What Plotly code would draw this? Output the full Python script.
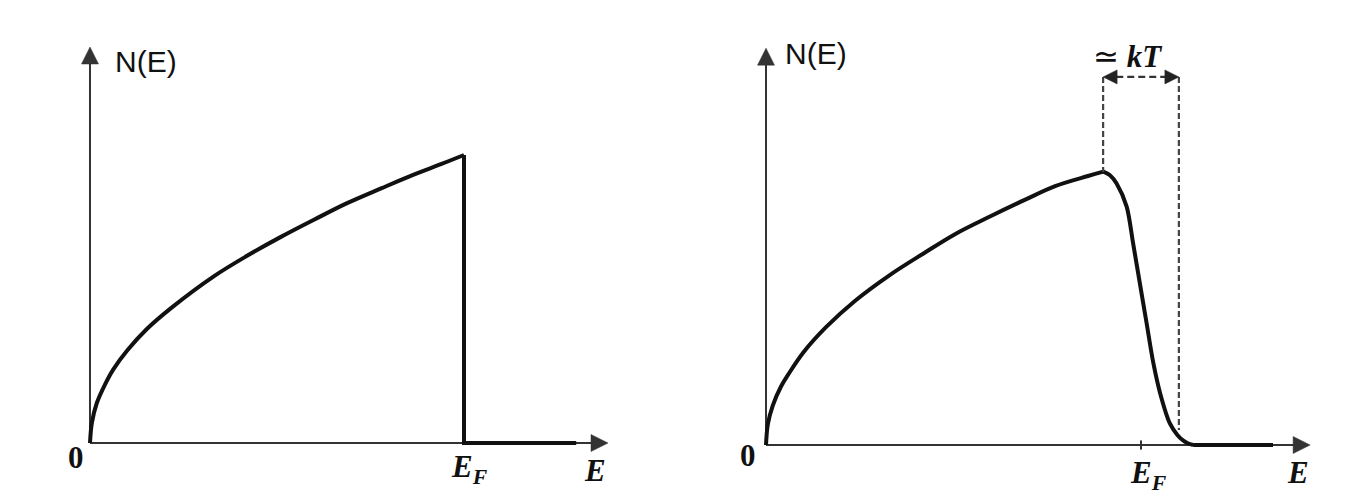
import plotly.graph_objects as go

# ---- data (E in units of E_F, N in units of N(E_F)) ----
left_rise_E = [0.0, 0.005, 0.018, 0.04, 0.062, 0.10, 0.152, 0.22, 0.33, 0.42, 0.508,
               0.60, 0.686, 0.78, 0.864, 0.94, 1.0]
left_rise_N = [0.0, 0.07, 0.138, 0.203, 0.255, 0.322, 0.396, 0.472, 0.578, 0.650, 0.714,
               0.776, 0.832, 0.885, 0.931, 0.969, 1.0]
left_drop_E = [1.0, 1.0, 1.30]
left_drop_N = [1.0, 0.0, 0.0]

right_rise_E = [0.0, 0.005, 0.018, 0.04, 0.0595, 0.10, 0.16, 0.237, 0.33, 0.42, 0.504,
                0.60, 0.69, 0.771, 0.8587, 0.8995]
right_rise_N = [0.0, 0.072, 0.137, 0.203, 0.245, 0.322, 0.409, 0.50, 0.590, 0.665, 0.732,
                0.795, 0.851, 0.899, 0.934, 0.949]
right_drop_E = [0.8995, 0.918, 0.935, 0.962, 0.979, 0.997, 1.015, 1.033, 1.051, 1.077,
                1.097, 1.113, 1.125, 1.139]
right_drop_N = [0.949, 0.936, 0.908, 0.827, 0.70, 0.561, 0.4226, 0.284, 0.18, 0.075,
                0.035, 0.015, 0.006, 0.0]
right_tail_E = [1.139, 1.352]
right_tail_N = [0.0, 0.0]

kT_left = 0.899
kT_right = 1.101
kT_level = 1.278
dash_right_bottom = 0.052

axis_E_end = [1.385, 1.451]
axis_N_end = [1.375, 1.378]
px_per_E = [374.0, 375.0]
px_per_N = 288.0

fig = go.Figure()

CURVE = "#111111"
AXC = "#333333"
LW = 4.0


def line(x, y, xa, ya, shape="linear", **kw):
    fig.add_trace(go.Scatter(x=x, y=y, mode="lines", line_shape=shape,
                             line=dict(color=kw.get("color", CURVE), width=kw.get("width", LW),
                                       dash=kw.get("dash", "solid"),
                                       smoothing=kw.get("smoothing", 1.0)),
                             xaxis=xa, yaxis=ya, hoverinfo="skip"))


def head(x, y, xa, ya, symbol, size, color):
    fig.add_trace(go.Scatter(x=[x], y=[y], mode="markers",
                             marker=dict(symbol=symbol, size=size, color=color,
                                         line=dict(width=0.5, color=color)),
                             xaxis=xa, yaxis=ya, hoverinfo="skip"))


# axes with arrowheads (arrow symbols have their tip at the data point)
HS = 17
for i, (xa, ya) in enumerate([("x", "y"), ("x2", "y2")]):
    ex, ny = axis_E_end[i], axis_N_end[i]
    line([0, ex - (HS / 2) / px_per_E[i]], [0, 0], xa, ya, color=AXC, width=2.2)
    line([0, 0], [0, ny - (HS / 2) / px_per_N], xa, ya, color=AXC, width=2.0)
    head(ex, 0, xa, ya, "arrow-right", HS, AXC)
    head(0, ny, xa, ya, "arrow-up", HS, AXC)

# curves
line(left_rise_E, left_rise_N, "x", "y", "spline")
line(left_drop_E, left_drop_N, "x", "y")
line(right_rise_E, right_rise_N, "x2", "y2", "spline")
line(right_drop_E, right_drop_N, "x2", "y2", "spline", smoothing=0.8)
line(right_tail_E, right_tail_N, "x2", "y2")

# dashed kT lines
line([kT_left, kT_left], [kT_level, right_rise_N[-1]], "x2", "y2",
     color="#444444", width=2.2, dash="6px,3px")
line([kT_right, kT_right], [kT_level, dash_right_bottom], "x2", "y2",
     color="#444444", width=2.2, dash="6px,3px")
line([kT_left + 0.035, kT_right - 0.035], [kT_level, kT_level], "x2", "y2",
     color="#333333", width=2.2, dash="7px,4px")
KS = 14
head(kT_left, kT_level, "x2", "y2", "arrow-left", KS, "#222222")
head(kT_right, kT_level, "x2", "y2", "arrow-right", KS, "#222222")

# E_F tick on right axis
line([1.0, 1.0], [-0.016, 0.016], "x2", "y2", color=AXC, width=2)

ann = []
SERIF = "Liberation Serif"
SANS = "Liberation Sans"
labels = [
    ("x", "y", 0.1497, 1.323, "N(E)", SANS, 30),
    ("x2", "y2", 0.1333, 1.361, "N(E)", SANS, 30),
    ("x", "y", -0.037, -0.05, "<b>0</b>", SERIF, 31),
    ("x2", "y2", -0.048, -0.037, "<b>0</b>", SERIF, 31),
    ("x", "y", 1.016, -0.09, "<b><i>E</i></b><sub><b><i>F</i></b></sub>", SERIF, 31),
    ("x2", "y2", 1.019, -0.104, "<b><i>E</i></b><sub><b><i>F</i></b></sub>", SERIF, 31),
    ("x", "y", 1.350, -0.094, "<b><i>E</i></b>", SERIF, 31),
    ("x2", "y2", 1.4187, -0.094, "<b><i>E</i></b>", SERIF, 31),
    ("x2", "y2", 0.965, 1.35, "≃ <b><i>kT</i></b>", SERIF, 31),
]
for xr, yr, x, y, t, f, s in labels:
    ann.append(dict(x=x, y=y, xref=xr, yref=yr, text=t, showarrow=False,
                    font=dict(family=f, size=s, color="#111111"),
                    xanchor="center", yanchor="middle"))

hidden = dict(visible=False, showgrid=False, zeroline=False, fixedrange=True)
fig.update_layout(
    width=1346, height=498,
    margin=dict(l=0, r=0, t=0, b=0),
    paper_bgcolor="white", plot_bgcolor="white",
    showlegend=False,
    xaxis=dict(domain=[0, 0.5], range=[-0.2406, 1.5588], **hidden),
    yaxis=dict(domain=[0, 1], range=[-0.19097, 1.5382], **hidden),
    xaxis2=dict(domain=[0.5, 1], range=[-0.248, 1.5467], anchor="y2", **hidden),
    yaxis2=dict(domain=[0, 1], range=[-0.184, 1.5451], anchor="x2", **hidden),
    annotations=ann,
)

fig.write_html("out.html", config={"displayModeBar": False},
               post_script="document.body.style.margin='0';document.body.style.overflow='hidden';")
